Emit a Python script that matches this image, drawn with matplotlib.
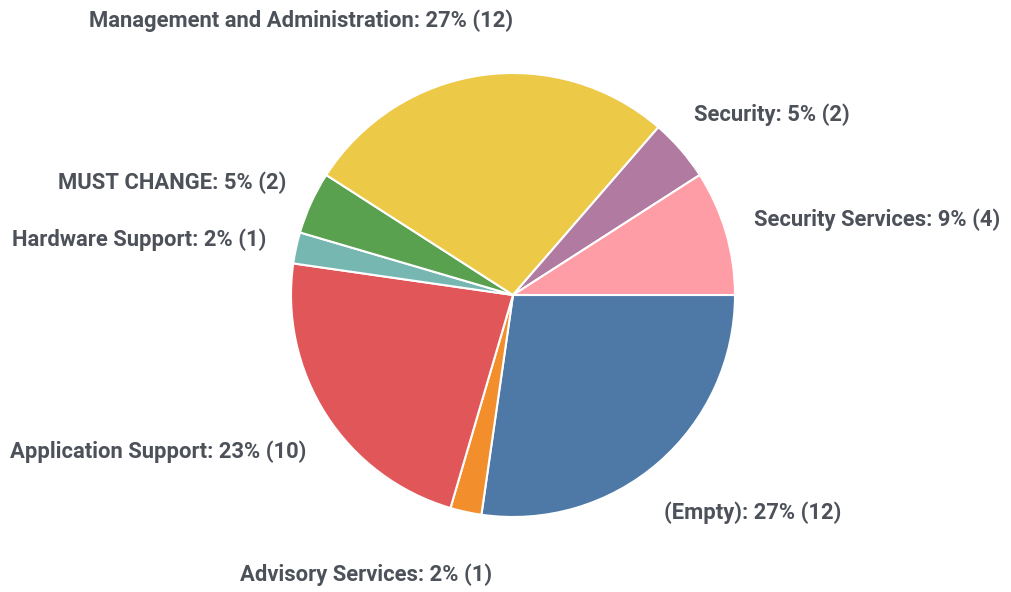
import numpy as np
import matplotlib
matplotlib.use('Agg')
import matplotlib.pyplot as plt

categories = ['(Empty)', 'Advisory Services', 'Application Support', 'Hardware Support',
              'MUST CHANGE', 'Management and Administration', 'Security', 'Security Services']
counts = [12, 1, 10, 1, 2, 12, 2, 4]
colors = ['#4e79a7', '#f28e2b', '#e15759', '#76b7b2',
          '#59a14f', '#edc948', '#b07aa1', '#ff9da7']

W, H = 1012, 592
fig = plt.figure(figsize=(W / 100, H / 100), dpi=100)

# pie centre ~ (513, 295) px, radius ~222 px
R = 222
L = 1.33
side = 2 * L * R
cx, cy = 513, H - 295
ax = fig.add_axes([(cx - side / 2) / W, (cy - side / 2) / H, side / W, side / H])

wedges, _ = ax.pie(counts, colors=colors, startangle=0, counterclock=False,
                   radius=1, wedgeprops=dict(edgecolor='white', linewidth=1.5))
ax.set_xlim(-L, L)
ax.set_ylim(-L, L)
ax.set_aspect('equal')
ax.axis('off')

total = sum(counts)
for w, name, n in zip(wedges, categories, counts):
    ang = np.deg2rad((w.theta1 + w.theta2) / 2)
    c, s = np.cos(ang), np.sin(ang)
    # labels overlap their radial anchor a little, more so near the vertical
    x = 1.27 * c - np.sign(c) * (0.13 + 0.06 * (1 - abs(c)))
    y = 1.27 * s - 0.02
    ha = 'left' if c > 0 else 'right'
    ax.text(x, y, f'{name}: {round(100 * n / total)}% ({n})', ha=ha, va='center',
            fontsize=15.8, fontweight='bold', family='Roboto', color='#4d5159')

fig.savefig('out.png', dpi=100)
